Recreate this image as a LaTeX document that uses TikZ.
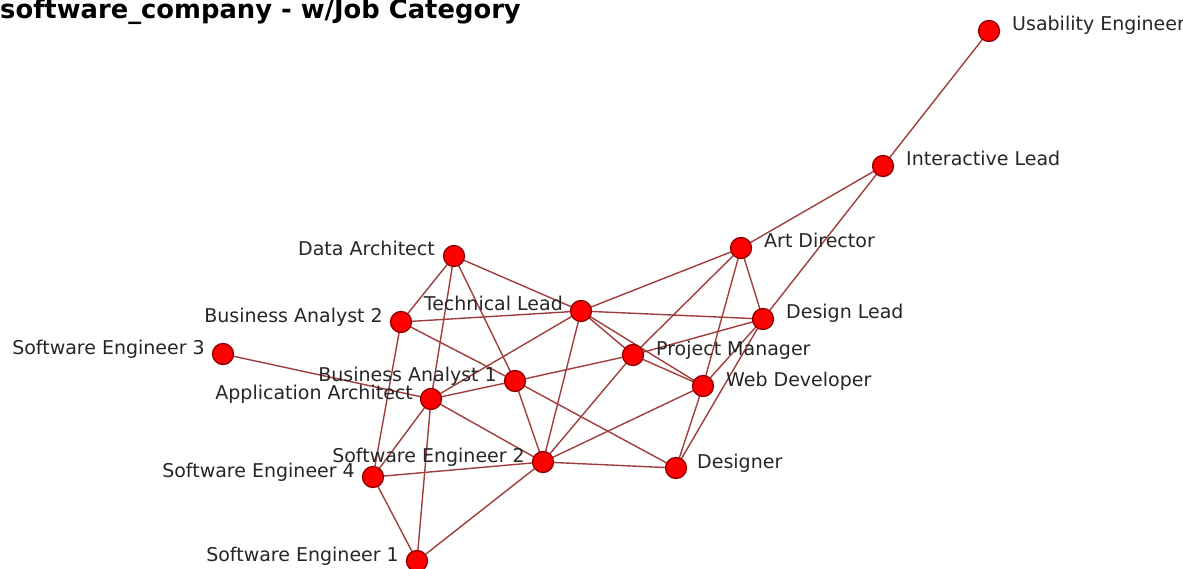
\documentclass[tikz,border=0pt]{standalone}
\usepackage{fontspec}
\setmainfont{DejaVu Sans}
\usetikzlibrary{calc}
\definecolor{edgecol}{RGB}{160,62,62}
\definecolor{nodefill}{RGB}{255,0,0}
\definecolor{nodeline}{RGB}{140,0,0}
\begin{document}
\begin{tikzpicture}[x=1pt,y=-1pt,
  vert/.style={circle,fill=nodefill,draw=nodeline,line width=1.3pt,minimum size=21pt,inner sep=0pt},
  edge/.style={draw=edgecol,line width=1.4pt},
  rlab/.style={anchor=base west,inner sep=0pt,font=\fontsize{19}{22}\selectfont,text=black!85},
  llab/.style={anchor=base east,inner sep=0pt,font=\fontsize{19}{22}\selectfont,text=black!85},
  title/.style={anchor=base west,inner sep=0pt,font=\fontsize{25.8}{30}\selectfont\bfseries}]
\useasboundingbox (0,0) rectangle (1183,569);
\fill[white] (0,0) rectangle (1183,569);
% vertices
\coordinate (UE) at (989,31);
\coordinate (IL) at (883,166);
\coordinate (AD) at (741,248);
\coordinate (DL) at (763,319);
\coordinate (PM) at (633,355);
\coordinate (WD) at (703,386);
\coordinate (Des) at (676,468);
\coordinate (TL) at (581,311);
\coordinate (DA) at (454,256);
\coordinate (BAb) at (401,322);
\coordinate (SEc) at (223,354);
\coordinate (BAa) at (515,381);
\coordinate (AA) at (431,399);
\coordinate (SEb) at (543,462);
\coordinate (SEd) at (373,477);
\coordinate (SEa) at (417,561);
% edges
\foreach \a/\b in {UE/IL,IL/AD,IL/DL,AD/TL,AD/PM,AD/WD,AD/DL,DL/TL,DL/PM,DL/WD,DL/Des,
  TL/DA,TL/BAb,TL/AA,TL/SEb,TL/PM,TL/WD,PM/BAa,PM/SEb,PM/WD,WD/SEb,WD/Des,Des/SEb,Des/BAa,
  DA/BAb,DA/AA,DA/BAa,BAb/BAa,BAb/SEd,SEc/AA,AA/BAa,AA/SEb,AA/SEd,AA/SEa,BAa/SEb,SEb/SEd,SEb/SEa,SEd/SEa}
  {\path[edge] (\a) -- (\b);}
% nodes
\foreach \n in {UE,IL,AD,DL,PM,WD,Des,TL,DA,BAb,SEc,BAa,AA,SEb,SEd,SEa}
  {\node[vert] (n\n) at (\n) {};}
% labels
\node[rlab] (lUE) at ($(UE)+(23,0)$) {Usability Engineer};
\node[rlab] (lIL) at ($(IL)+(23,0)$) {Interactive Lead};
\node[rlab] (lAD) at ($(AD)+(23,0)$) {Art Director};
\node[rlab] (lDL) at ($(DL)+(23,0)$) {Design Lead};
\node[rlab] (lPM) at ($(PM)+(23,0)$) {Project Manager};
\node[rlab] (lWD) at ($(WD)+(23,0)$) {Web Developer};
\node[rlab] (lDes) at ($(Des)+(21,0)$) {Designer};
\node[llab] (lTL) at ($(TL)+(-18,0)$) {Technical Lead};
\node[llab] (lDA) at ($(DA)+(-19,0)$) {Data Architect};
\node[llab] (lBAb) at ($(BAb)+(-18,0)$) {Business Analyst 2};
\node[llab] (lSEc) at ($(SEc)+(-18,0)$) {Software Engineer 3};
\node[llab] (lBAa) at ($(BAa)+(-18,0)$) {Business Analyst 1};
\node[llab] (lAA) at ($(AA)+(-18,0)$) {Application Architect};
\node[llab] (lSEb) at ($(SEb)+(-18,0)$) {Software Engineer 2};
\node[llab] (lSEd) at ($(SEd)+(-18,0)$) {Software Engineer 4};
\node[llab] (lSEa) at ($(SEa)+(-18,0)$) {Software Engineer 1};
\node[title] (ttl) at (0,19) {software\_company - w/Job Category};
\end{tikzpicture}
\end{document}
